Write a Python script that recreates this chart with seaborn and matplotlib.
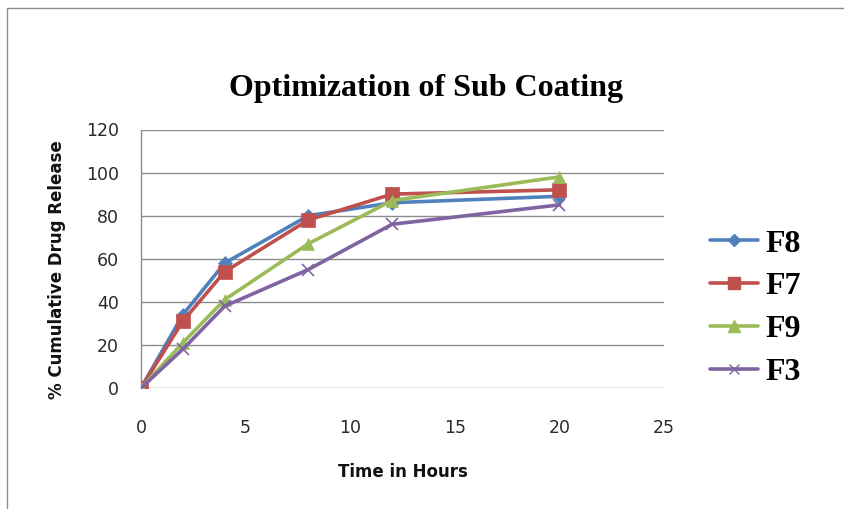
import matplotlib
matplotlib.use("Agg")
import matplotlib.pyplot as plt
import seaborn as sns
import pandas as pd
from matplotlib.lines import Line2D
from matplotlib.patches import Rectangle

time_hours = [0, 2, 4, 8, 12, 20]
f8 = [0, 34, 58, 80, 86, 89]
f7 = [0, 31, 54, 78, 90, 92]
f9 = [0, 21, 41, 67, 87, 98]
f3 = [0, 18, 38, 55, 76, 85]
series_names = ["F8", "F7", "F9", "F3"]
x_ticks = [0, 5, 10, 15, 20, 25]
y_ticks = [0, 20, 40, 60, 80, 100, 120]

colors = {"F8": "#4F81BD", "F7": "#C0504D", "F9": "#9BBB59", "F3": "#8064A2"}
markers = {"F8": "D", "F7": "s", "F9": "^", "F3": "x"}
msizes = {"F8": 7, "F7": 10, "F9": 9, "F3": 8}

rows = []
for name, vals in zip(series_names, [f8, f7, f9, f3]):
    for t, v in zip(time_hours, vals):
        rows.append({"Time": t, "Release": v, "Formulation": name})
df = pd.DataFrame(rows)

sns.set_theme(style="white")
plt.rcParams["font.family"] = ["DejaVu Sans"]

fig = plt.figure(figsize=(8.45, 5.09), dpi=100)
ax = fig.add_axes([141 / 845, 1 - 388 / 509, 523 / 845, (388 - 129.5) / 509])

for name in series_names:
    sub = df[df["Formulation"] == name]
    sns.lineplot(data=sub, x="Time", y="Release", ax=ax, color=colors[name],
                 linewidth=2.6, marker=markers[name], markersize=msizes[name],
                 markeredgecolor=colors[name], markeredgewidth=1.2 if name == "F3" else 0.5,
                 legend=False, zorder=3)

ax.set_xlim(0, 25)
ax.set_ylim(0, 120)
ax.set_xticks(x_ticks)
ax.set_yticks(y_ticks)
ax.yaxis.grid(True, color="#8c8c8c", linewidth=1.0)
ax.xaxis.grid(False)
for s in ["top", "right", "bottom"]:
    ax.spines[s].set_visible(False)
ax.spines["left"].set_color("#8c8c8c")
ax.spines["left"].set_linewidth(1.0)
ax.tick_params(axis="both", length=0, labelsize=12.5, colors="#2a2a2a")
ax.tick_params(axis="x", pad=22)
ax.tick_params(axis="y", pad=16)

ax.set_xlabel("Time in Hours", fontsize=12, fontweight="bold", color="#111111", va="center")
ax.set_ylabel("% Cumulative Drug Release", fontsize=12, fontweight="bold", color="#111111", va="center")
ax.xaxis.set_label_coords(0.5, (388 - 472) / 258.5)
ax.yaxis.set_label_coords((57 - 141) / 523, (388 - 270) / 258.5)

fig.text(0.504, 1 - 96 / 509, "Optimization of Sub Coating", ha="center", va="baseline",
         fontsize=23, fontweight="bold", family="Liberation Serif", color="black")

handles = [Line2D([0], [0], color=colors[n], linewidth=2.6, marker=markers[n],
                  markersize=msizes[n] - 1, markeredgecolor=colors[n]) for n in series_names]
leg = fig.legend(handles, series_names, loc="center left", bbox_to_anchor=(694 / 845, 1 - 308 / 509),
                 frameon=False, prop={"family": "Liberation Serif", "weight": "bold", "size": 23},
                 handlelength=1.5, labelspacing=0.42, handletextpad=0.25, borderpad=0)
for t in leg.get_texts():
    t.set_color("black")

fig.patches.append(Rectangle((7 / 845, -0.1), 1.2, 1 - 8 / 509 + 0.1, transform=fig.transFigure,
                             fill=False, edgecolor="#8c8c8c", linewidth=1.0))

fig.savefig("out.png", dpi=100)
